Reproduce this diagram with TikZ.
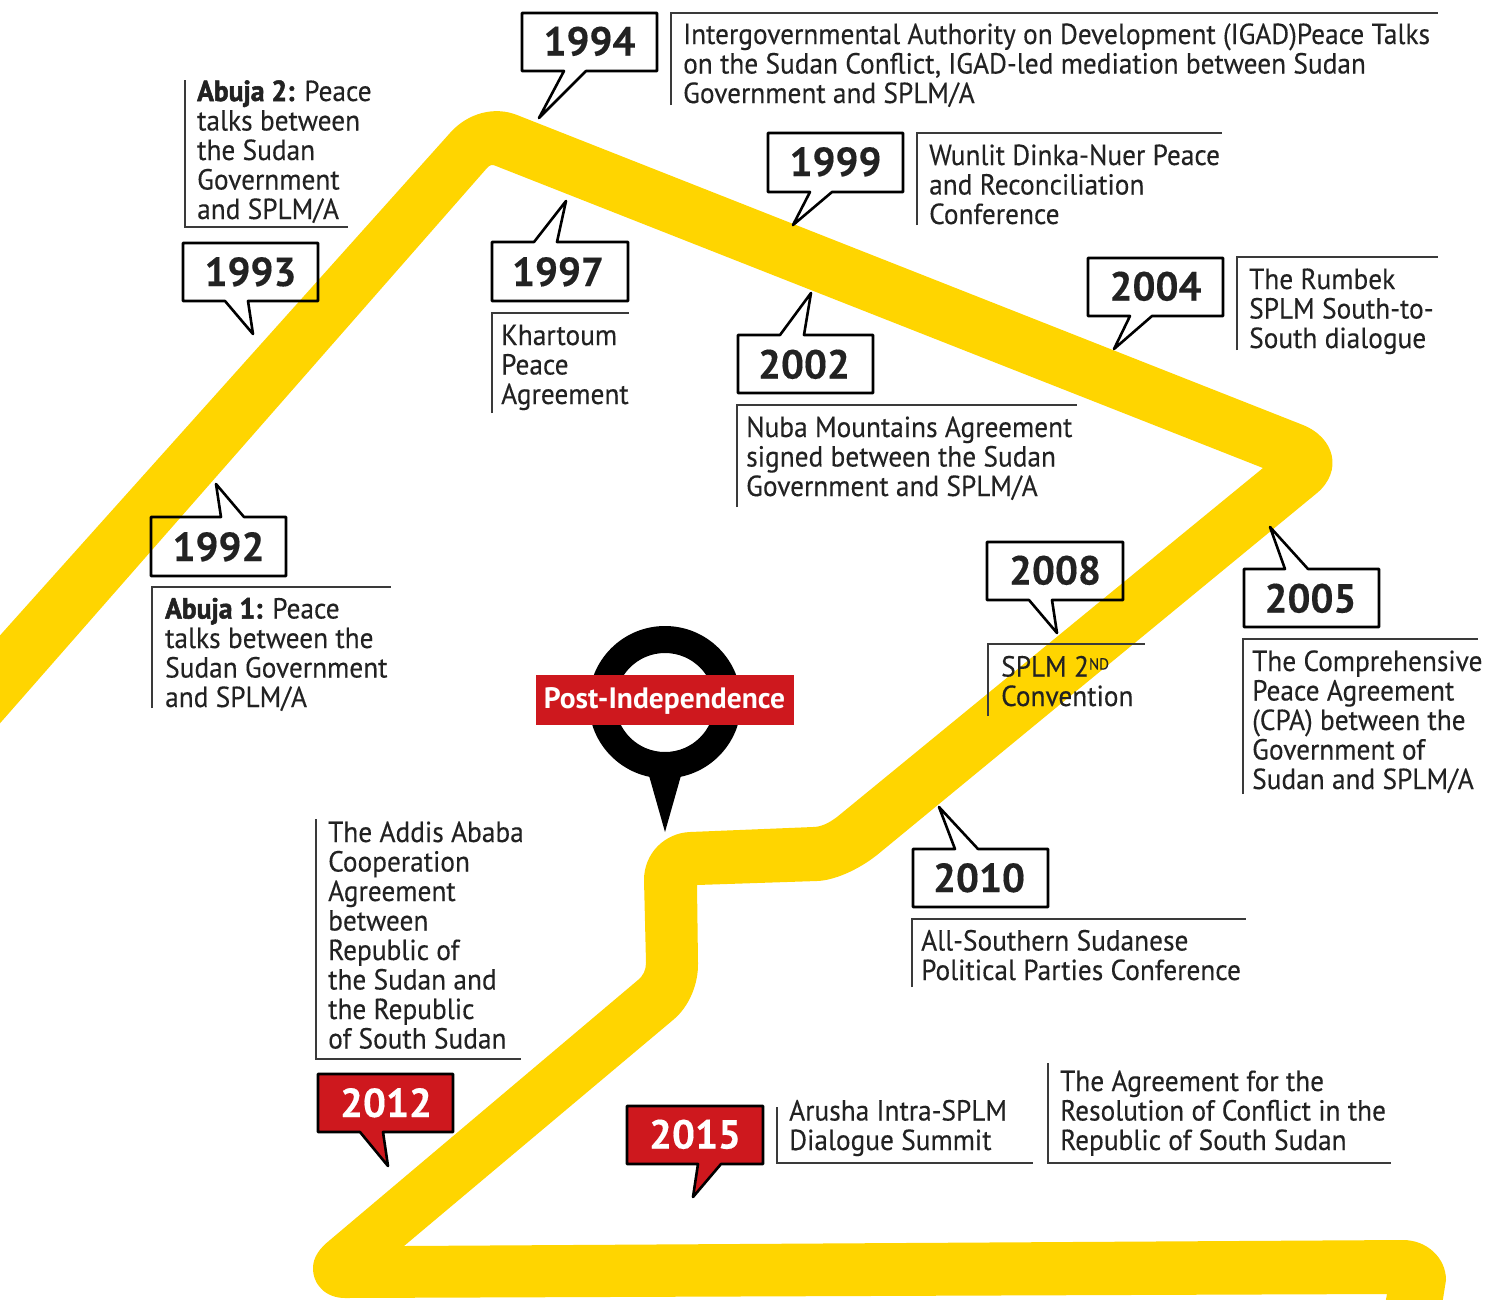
\documentclass[tikz,border=0pt]{standalone}
\usepackage{fontspec}
\setmainfont[FakeStretch=0.943,FakeBold=0.25]{PT Sans}
\newfontfamily\yearfont[FakeBold=0.3]{PT Sans Bold}
\newfontfamily\pinfont{PT Sans Bold}
\newfontfamily\heavyfont[FakeStretch=0.95,FakeBold=1.8]{PT Sans Bold}
\definecolor{band}{HTML}{FFD500}
\definecolor{ink}{HTML}{222222}
\definecolor{rule}{HTML}{3A3A3A}
\definecolor{flag}{HTML}{CE181E}
\tikzset{
  txt/.style={anchor=base west,inner sep=0pt,align=left,text=ink,font=\fontsize{29}{29.5}\selectfont},
  frameline/.style={draw=rule,line width=1.2pt},
  balloon/.style={draw=black,line width=2.6pt,line join=round},
  yearlabel/.style={anchor=base,inner sep=0pt,text=ink,font=\yearfont\fontsize{40.5}{41}\selectfont},
}
\newcommand{\boxdown}[9]{% x1 y1 x2 y2 a tipx tipy b : tail on lower side
  \draw[balloon,#9] (#1,#2) -- (#3,#2) -- (#3,#4) -- (#8,#4) -- (#6,#7) -- (#5,#4) -- (#1,#4) -- cycle;}
\newcommand{\boxup}[9]{% tail on upper side
  \draw[balloon,#9] (#1,#2) -- (#5,#2) -- (#6,#7) -- (#8,#2) -- (#3,#2) -- (#3,#4) -- (#1,#4) -- cycle;}
\begin{document}
\begin{tikzpicture}[x=1pt,y=-1pt]
\useasboundingbox (0,0) rectangle (1502,1299);
\clip (0,0) rectangle (1502,1299);
\fill[white] (0,0) rectangle (1502,1299);
% yellow route
\fill[band] (-5,641) -- (450,133) .. controls (467.6,113) and (494.4,106) .. (517,115)
  -- (1303,425) .. controls (1335,438) and (1343,471) .. (1317,493)
  -- (877,855) .. controls (858,870) and (834,880.5) .. (817,881)
  -- (697,885) -- (698,963) .. controls (698.5,984) and (689,1007) .. (673,1020)
  -- (404,1246) -- (1403,1240) .. controls (1427,1240) and (1446,1258) .. (1446,1280)
  -- (1442,1305) -- (1385,1305) -- (1387,1294) -- (345,1298)
  .. controls (326,1298) and (313,1285) .. (313,1268)
  .. controls (313,1257) and (320,1248) .. (330,1240)
  -- (638,980) .. controls (643,976) and (646,970) .. (646,963)
  -- (644,880) .. controls (644,853) and (665,833) .. (690,832)
  -- (813,827) .. controls (821,827) and (829,823) .. (837,817)
  -- (1263,468) -- (496,166) .. controls (492,164) and (490,165) .. (487,168)
  -- (-5,729) -- cycle;
% balloons
\boxdown{522}{13}{657}{71}{564}{539}{118}{586}{}
\node[yearlabel] (y1994) at (589.5,55.5) {1994};
\boxdown{768}{133}{903}{192}{810}{793}{225}{832}{}
\node[yearlabel] (y1999) at (835.5,176) {1999};
\boxup{492}{242}{628}{301}{534}{566}{201}{557}{}
\node[yearlabel] (y1997) at (558,286) {1997};
\boxdown{183}{243}{318}{301}{225}{253}{334}{248}{}
\node[yearlabel] (y1993) at (250.5,286) {1993};
\boxup{151}{517}{286}{576}{221}{216}{484}{244}{}
\node[yearlabel] (y1992) at (218.5,561) {1992};
\boxup{738}{335}{873}{393}{780}{811}{293}{804}{}
\node[yearlabel] (y2002) at (804,378.5) {2002};
\boxdown{1088}{258}{1223}{316}{1130}{1114}{349}{1152}{}
\node[yearlabel] (y2004) at (1155.5,300.5) {2004};
\boxup{1244}{569}{1379}{627}{1285}{1270}{527}{1308}{}
\node[yearlabel] (y2005) at (1310.5,612.5) {2005};
\boxdown{987}{542}{1123}{600}{1029}{1057}{633}{1052}{}
\node[yearlabel] (y2008) at (1055,584.5) {2008};
\boxup{913}{849}{1048}{907}{955}{939}{807}{978}{}
\node[yearlabel] (y2010) at (979,892) {2010};
\boxdown{318}{1074}{453}{1132}{360}{388}{1166}{383}{fill=flag}
\node[yearlabel,text=white] (y2012) at (386,1117) {2012};
\boxdown{627}{1106}{763}{1164}{698}{693}{1197}{721}{fill=flag}
\node[yearlabel,text=white] (y2015) at (695,1148.5) {2015};
% text frames
\draw[frameline] (671,105) -- (671,13) -- (1438,13);
\draw[frameline] (917,225) -- (917,133) -- (1222,133);
\draw[frameline] (1237,350) -- (1237,257) -- (1438,257);
\draw[frameline] (185,80) -- (185,227) -- (348,227);
\draw[frameline] (492,413) -- (492,313) -- (629,313);
\draw[frameline] (737,507) -- (737,405) -- (1077,405);
\draw[frameline] (152,708) -- (152,587) -- (391,587);
\draw[frameline] (988,716) -- (988,644) -- (1145,644);
\draw[frameline] (1243,794) -- (1243,639) -- (1478,639);
\draw[frameline] (912,987) -- (912,919) -- (1246,919);
\draw[frameline] (316,819) -- (316,1059) -- (521,1059);
\draw[frameline] (777,1107) -- (777,1163) -- (1033,1163);
\draw[frameline] (1048,1063) -- (1048,1163) -- (1391,1163);
% texts
\node[txt] (t1994) at (683,103) {Intergovernmental Authority on Development (IGAD)Peace Talks\\on the Sudan Conflict, IGAD-led mediation between Sudan\\Government and SPLM/A};
\node[txt] (t1999) at (929,224) {Wunlit Dinka-Nuer Peace\\and Reconciliation\\Conference};
\node[txt] (t2004) at (1249,348) {The Rumbek\\SPLM South-to-\\South dialogue};
\node[txt] (t1993) at (197,219) {{\heavyfont Abuja 2:} Peace\\talks between\\the Sudan\\Government\\and SPLM/A};
\node[txt] (t1997) at (501,404) {Khartoum\\Peace\\Agreement};
\node[txt] (t2002) at (746,496) {Nuba Mountains Agreement\\signed between the Sudan\\Government and SPLM/A};
\node[txt] (t1992) at (165,707) {{\heavyfont Abuja 1:} Peace\\talks between the\\Sudan Government\\and SPLM/A};
\node[txt] (t2008) at (1001,706) {SPLM 2\raisebox{7pt}{\fontsize{16}{16}\selectfont ND}\\Convention};
\node[txt] (t2005) at (1252,789) {The Comprehensive\\Peace Agreement\\(CPA) between the\\Government of\\Sudan and SPLM/A};
\node[txt] (t2010) at (921,980) {All-Southern Sudanese\\Political Parties Conference};
\node[txt] (t2012) at (328,1048.5) {The Addis Ababa\\Cooperation\\Agreement\\between\\Republic of\\the Sudan and\\the Republic\\of South Sudan};
\node[txt] (t2015) at (789,1150) {Arusha Intra-SPLM\\Dialogue Summit};
\node[txt] (t2015b) at (1060,1150) {The Agreement for the\\Resolution of Conflict in the\\Republic of South Sudan};
% pin
\fill[black,even odd rule] (665,702.2) circle (76.2) (665,702.5) circle (49.5);
\fill[black] (648,772) -- (682,772) -- (665,832) -- cycle;
\node[fill=flag,minimum width=258pt,minimum height=50pt,inner sep=0pt,text=white,text height=22pt,text depth=6pt,font=\pinfont\fontsize{29.5}{29.5}\selectfont] (pin) at (664.5,700) {Post-Independence};
\end{tikzpicture}
\end{document}
